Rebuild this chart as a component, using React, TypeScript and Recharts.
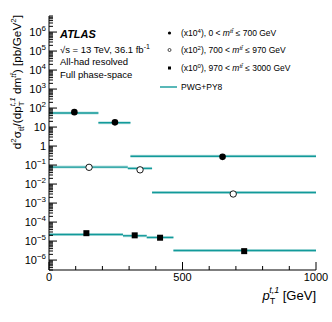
import React from "react";
import {
  ComposedChart,
  Line,
  Scatter,
  XAxis,
  YAxis,
} from "recharts";

// pT(t,1) bin edges and PWG+PY8 predictions, three m(tt) slices (already scaled)
const binsLow = [0, 185, 305, 1000];
const predLow = [55, 17, 0.29];
const binsMid = [0, 295, 386, 1000];
const predMid = [0.078, 0.067, 0.0036];
const binsHigh = [0, 277, 366, 466, 1000];
const predHigh = [2.2e-5, 1.9e-5, 1.55e-5, 3.2e-6];

// measured points
const ptLow = [95, 247, 650];
const valLow = [61, 17.7, 0.27];
const ptMid = [150, 341, 690];
const valMid = [0.076, 0.056, 0.003];
const ptHigh = [140, 321, 416, 731];
const valHigh = [2.6e-5, 2.0e-5, 1.5e-5, 2.95e-6];

const xTicks = [0, 100, 200, 300, 400, 500, 600, 700, 800, 900, 1000];
const xLabels = [0, 500, 1000];
const yMajor = [1e-6, 1e-5, 1e-4, 1e-3, 1e-2, 1e-1, 1, 10, 1e2, 1e3, 1e4, 1e5, 1e6];
const yDomain: [number, number] = [3e-7, 7e6];

const yTicks: number[] = [];
yMajor.concat([1e-7]).forEach((m) => {
  for (let k = 1; k <= 9; k++) {
    const v = m * k;
    if (v >= yDomain[0] && v <= yDomain[1]) yTicks.push(v);
  }
});
yTicks.sort((a, b) => a - b);

const TEAL = "#129a9a";
const FONT = "'Liberation Sans', Arial, sans-serif";

function segments(bins: number[], vals: number[]) {
  return vals.map((v, i) => [
    { x: bins[i], y: v },
    { x: bins[i + 1], y: v },
  ]);
}

function points(xs: number[], ys: number[]) {
  return xs.map((x, i) => ({ x, y: ys[i] }));
}

const isMajor = (v: number) => {
  const e = Math.round(Math.log10(v));
  return Math.abs(v - Math.pow(10, e)) / v < 1e-6;
};

const YTickLeft = (props: any) => {
  const { x, y, payload } = props;
  const v = payload.value;
  const major = isMajor(v);
  const e = Math.round(Math.log10(v));
  return (
    <g>
      <line x1={x} x2={x + (major ? 8 : 4)} y1={y} y2={y} stroke="#000" strokeWidth={1} />
      {major && (
        <text x={x - 3} y={y + 4} textAnchor="end" fontSize={11} fontFamily={FONT} fill="#000">
          {e === 0 ? "1" : "10"}
          {e !== 0 && e !== 1 && (
            <tspan dy={-5} fontSize={8}>
              {e < 0 ? "\u2212" + -e : e}
            </tspan>
          )}
        </text>
      )}
    </g>
  );
};

const YTickRight = (props: any) => {
  const { x, y, payload } = props;
  const major = isMajor(payload.value);
  return <line x1={x} x2={x - (major ? 8 : 4)} y1={y} y2={y} stroke="#000" strokeWidth={1} />;
};

const XTickBottom = (props: any) => {
  const { x, y, payload } = props;
  const major = xLabels.includes(payload.value);
  return (
    <g>
      <line x1={x} x2={x} y1={y} y2={y - (major ? 8 : 4)} stroke="#000" strokeWidth={1} />
      {major && (
        <text x={x} y={y + 11} textAnchor="middle" fontSize={11} fontFamily={FONT} fill="#000">
          {payload.value}
        </text>
      )}
    </g>
  );
};

const XTickTop = (props: any) => {
  const { x, y, payload } = props;
  const major = xLabels.includes(payload.value);
  return <line x1={x} x2={x} y1={y} y2={y + (major ? 8 : 4)} stroke="#000" strokeWidth={1} />;
};

const filledCircle = (r: number) => (p: any) =>
  <circle cx={p.cx} cy={p.cy} r={r} fill="#000" />;
const openCircle = (r: number) => (p: any) =>
  <circle cx={p.cx} cy={p.cy} r={r} fill="#fff" stroke="#000" strokeWidth={0.9} />;
const square = (s: number) => (p: any) =>
  <rect x={p.cx - s / 2} y={p.cy - s / 2} width={s} height={s} fill="#000" />;

export default function App() {
  const allSegs = [
    ...segments(binsLow, predLow),
    ...segments(binsMid, predMid),
    ...segments(binsHigh, predHigh),
  ];

  return (
    <div style={{ position: "absolute", left: 0, top: 0, width: 332, height: 322, background: "#fff" }}>
      <ComposedChart
        width={332}
        height={322}
        margin={{ top: 16, right: 16, bottom: 0, left: 0 }}
      >
        <XAxis
          xAxisId="b"
          type="number"
          dataKey="x"
          domain={[0, 1000]}
          ticks={xTicks}
          interval={0}
          height={52}
          tickSize={0}
          tickMargin={0}
          tickLine={false}
          tick={<XTickBottom />}
          axisLine={{ stroke: "#000", strokeWidth: 1.2 }}
        />
        <XAxis
          xAxisId="t"
          orientation="top"
          type="number"
          dataKey="x"
          domain={[0, 1000]}
          ticks={xTicks}
          interval={0}
          height={0}
          tickSize={0}
          tickMargin={0}
          tickLine={false}
          tick={<XTickTop />}
          axisLine={{ stroke: "#000" }}
        />
        <YAxis
          yAxisId="l"
          type="number"
          scale="log"
          dataKey="y"
          domain={yDomain}
          allowDataOverflow
          ticks={yTicks}
          interval={0}
          width={49}
          tickSize={0}
          tickMargin={0}
          tickLine={false}
          tick={<YTickLeft />}
          axisLine={{ stroke: "#000" }}
        />
        <YAxis
          yAxisId="r"
          orientation="right"
          type="number"
          scale="log"
          dataKey="y"
          domain={yDomain}
          allowDataOverflow
          ticks={yTicks}
          interval={0}
          width={0}
          tickSize={0}
          tickMargin={0}
          tickLine={false}
          tick={<YTickRight />}
          axisLine={{ stroke: "#000" }}
        />
        {allSegs.map((seg, i) => (
          <Line
            key={"band" + i}
            xAxisId="b"
            yAxisId="l"
            data={seg}
            dataKey="y"
            stroke="#bfe3e3"
            strokeWidth={3}
            dot={false}
            isAnimationActive={false}
          />
        ))}
        {allSegs.map((seg, i) => (
          <Line
            key={"seg" + i}
            xAxisId="b"
            yAxisId="l"
            data={seg}
            dataKey="y"
            stroke={TEAL}
            strokeWidth={1.4}
            dot={false}
            isAnimationActive={false}
          />
        ))}
        <Scatter
          xAxisId="b"
          yAxisId="l"
          data={points(ptLow, valLow)}
          dataKey="y"
          shape={filledCircle(3.3)}
          isAnimationActive={false}
        />
        <Scatter
          xAxisId="b"
          yAxisId="l"
          data={points(ptMid, valMid)}
          dataKey="y"
          shape={openCircle(3.2)}
          isAnimationActive={false}
        />
        <Scatter
          xAxisId="b"
          yAxisId="l"
          data={points(ptHigh, valHigh)}
          dataKey="y"
          shape={square(6)}
          isAnimationActive={false}
        />
      </ComposedChart>
      <svg
        width={332}
        height={322}
        style={{ position: "absolute", left: 0, top: 0, pointerEvents: "none" }}
        fontFamily={FONT}
      >
        <text transform="translate(21,15) rotate(-90)" textAnchor="end" fontSize={11.8} fill="#000">
          d<tspan dy={-5} fontSize={8}>2</tspan>
          <tspan dy={5}>σ</tspan>
          <tspan dy={3} fontSize={8}>{"tt\u0304"}</tspan>
          <tspan dy={-3}>/(dp</tspan>
          <tspan dy={3} fontSize={8}>T</tspan>
          <tspan dx={-5} dy={-9} fontSize={8} fontStyle="italic">t,1</tspan>
          <tspan dy={6}> dm</tspan>
          <tspan dy={-5} fontSize={8} fontStyle="italic">{"tt\u0304"}</tspan>
          <tspan dy={5}>) [pb/GeV</tspan>
          <tspan dy={-5} fontSize={8}>2</tspan>
          <tspan dy={5}>]</tspan>
        </text>
        <text x={316} y={300} textAnchor="end" fontSize={13} fill="#000">
          <tspan fontStyle="italic">p</tspan>
          <tspan dy={4} fontSize={9}>T</tspan>
          <tspan dx={-6} dy={-11} fontSize={9} fontStyle="italic">t,1</tspan>
          <tspan dy={7}> [GeV]</tspan>
        </text>

        <text x={60} y={38} fontSize={11} fontWeight="bold" fontStyle="italic" fill="#000">ATLAS</text>
        <text x={60} y={53} fontSize={9.5} fill="#000">
          {"\u221As = 13 TeV, 36.1 fb"}
          <tspan dy={-4} fontSize={7}>-1</tspan>
        </text>
        <text x={60} y={65} fontSize={9.5} fill="#000">All-had resolved</text>
        <text x={60} y={78} fontSize={9.5} fill="#000">Full phase-space</text>

        <circle cx={169.5} cy={33} r={1.6} fill="#000" />
        <circle cx={169.5} cy={50} r={1.5} fill="#fff" stroke="#000" strokeWidth={0.7} />
        <rect x={168} y={66.5} width={3} height={3} fill="#000" />
        <line x1={160} x2={177} y1={87} y2={87} stroke={TEAL} strokeWidth={1.4} />
        <text x={181} y={36} fontSize={8.5} fill="#000">
          (x10<tspan dy={-3.5} fontSize={6}>4</tspan>
          <tspan dy={3.5}>), 0 &lt; </tspan>
          <tspan fontStyle="italic">m</tspan>
          <tspan dy={-3.5} fontSize={6} fontStyle="italic">{"tt\u0304"}</tspan>
          <tspan dy={3.5}> ≤ 700 GeV</tspan>
        </text>
        <text x={181} y={53} fontSize={8.5} fill="#000">
          (x10<tspan dy={-3.5} fontSize={6}>2</tspan>
          <tspan dy={3.5}>), 700 &lt; </tspan>
          <tspan fontStyle="italic">m</tspan>
          <tspan dy={-3.5} fontSize={6} fontStyle="italic">{"tt\u0304"}</tspan>
          <tspan dy={3.5}> ≤ 970 GeV</tspan>
        </text>
        <text x={181} y={71} fontSize={8.5} fill="#000">
          (x10<tspan dy={-3.5} fontSize={6}>0</tspan>
          <tspan dy={3.5}>), 970 &lt; </tspan>
          <tspan fontStyle="italic">m</tspan>
          <tspan dy={-3.5} fontSize={6} fontStyle="italic">{"tt\u0304"}</tspan>
          <tspan dy={3.5}> ≤ 3000 GeV</tspan>
        </text>
        <text x={181} y={90} fontSize={8.5} fill="#000">PWG+PY8</text>
      </svg>
    </div>
  );
}
